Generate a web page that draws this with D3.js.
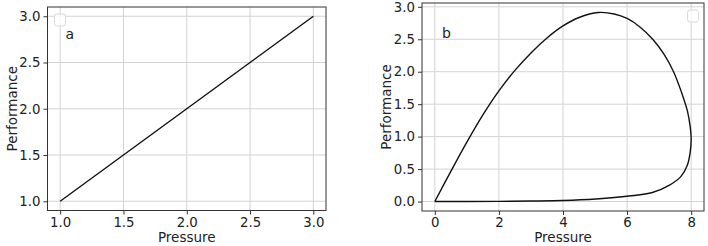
<!DOCTYPE html>
<html>
<head>
<meta charset="utf-8">
<script src="https://cdn.jsdelivr.net/npm/d3@7"></script>
<style>
  body { margin: 0; background: #fff; }
  text { font-family: "DejaVu Sans", sans-serif; fill: #222; }
  .grid line { stroke: #d3d3d3; stroke-width: 1; }
  .tick-label { font-size: 13.3px; }
  .axis-title { font-size: 13.5px; }
</style>
</head>
<body>
<div id="chart"></div>
<script>
(function () {

// panel a: straight line
const pressureA = [1.0, 1.5, 2.0, 2.5, 3.0];
const perfA = [1.0, 1.5, 2.0, 2.5, 3.0];
const xTicksA = [1.0, 1.5, 2.0, 2.5, 3.0];
const yTicksA = [1.0, 1.5, 2.0, 2.5, 3.0];

// panel b: closed loop
const pressureB = [0, 0.5, 1.0, 1.5, 2.0, 2.5, 3.0, 3.5, 4.0, 4.5, 5.1, 5.6, 6.0, 6.4, 6.8, 7.15, 7.45, 7.7, 7.88, 7.97, 8.0, 7.97, 7.88, 7.67, 7.31, 6.79, 6.06, 5.03, 4.0, 3.0, 2.0, 1.0, 0];
const perfB = [0, 0.465, 0.915, 1.335, 1.705, 2.02, 2.29, 2.52, 2.705, 2.835, 2.913, 2.89, 2.82, 2.69, 2.5, 2.27, 2.0, 1.68, 1.4, 1.15, 0.97, 0.76, 0.56, 0.38, 0.25, 0.14, 0.085, 0.04, 0.016, 0.008, 0.003, 0.001, 0];
const xTicksB = [0, 2, 4, 6, 8];
const yTicksB = [0.0, 0.5, 1.0, 1.5, 2.0, 2.5, 3.0];

const svg = d3.select("#chart").append("svg")
    .attr("width", 708)
    .attr("height", 246);

function panel(opt) {
  const g = svg.append("g")
      .attr("transform", "translate(" + opt.left + "," + opt.top + ")");
  const w = opt.width, h = opt.height;

  // matplotlib style 5% padding around the data
  const xe = d3.extent(opt.xs), ye = d3.extent(opt.ys);
  const xp = (xe[1] - xe[0]) * 0.05, yp = (ye[1] - ye[0]) * 0.05;
  const x = d3.scaleLinear().domain([xe[0] - xp, xe[1] + xp]).range([0, w]);
  const y = d3.scaleLinear().domain([ye[0] - yp, ye[1] + yp]).range([h, 0]);

  // grid
  const grid = g.append("g").attr("class", "grid");
  grid.selectAll(".gx").data(opt.xTicks).join("line")
    .attr("x1", d => x(d)).attr("x2", d => x(d))
    .attr("y1", 0).attr("y2", h);
  grid.selectAll(".gy").data(opt.yTicks).join("line")
    .attr("y1", d => y(d)).attr("y2", d => y(d))
    .attr("x1", 0).attr("x2", w);

  // axes using d3 axis generators
  const xAxis = g.append("g")
    .attr("transform", "translate(0," + h + ")")
    .call(d3.axisBottom(x).tickValues(opt.xTicks).tickFormat(opt.xFmt).tickSizeOuter(0).tickSize(4).tickPadding(3));
  const yAxis = g.append("g")
    .call(d3.axisLeft(y).tickValues(opt.yTicks).tickFormat(d3.format(".1f")).tickSizeOuter(0).tickSize(4).tickPadding(3));
  [xAxis, yAxis].forEach(a => {
    a.select(".domain").remove();
    a.selectAll(".tick line").attr("stroke", "#333");
    a.selectAll(".tick text").attr("class", "tick-label").attr("font-family", null).attr("font-size", null).attr("fill", "#222");
  });

  // the line
  const line = d3.line()
    .x(d => x(d[0]))
    .y(d => y(d[1]))
    .curve(opt.curve);
  g.append("path")
    .datum(d3.zip(opt.xs, opt.ys))
    .attr("d", line)
    .attr("fill", "none")
    .attr("stroke", "#111")
    .attr("stroke-width", 1.4);

  // frame
  g.append("rect")
    .attr("width", w).attr("height", h)
    .attr("fill", "none").attr("stroke", "#333").attr("stroke-width", 1);

  // empty legend box
  g.append("rect")
    .attr("x", opt.legendX).attr("y", 7)
    .attr("width", 11).attr("height", 12).attr("rx", 2.5)
    .attr("fill", "#fff").attr("fill-opacity", 0.8)
    .attr("stroke", "#d8d8d8").attr("stroke-width", 1);

  // panel letter
  g.append("text")
    .attr("x", opt.letterX).attr("y", opt.letterY)
    .attr("font-size", 14)
    .text(opt.letter);

  // axis titles
  g.append("text").attr("class", "axis-title")
    .attr("x", w / 2).attr("y", h + 31)
    .attr("text-anchor", "middle")
    .text("Pressure");
  g.append("text").attr("class", "axis-title")
    .attr("transform", "translate(" + (-31) + "," + (h / 2) + ") rotate(-90)")
    .attr("text-anchor", "middle")
    .text("Performance");
}

panel({
  left: 47.5, top: 7, width: 278.5, height: 203.5,
  xs: pressureA, ys: perfA, xTicks: xTicksA, yTicks: yTicksA,
  xFmt: d3.format(".1f"), curve: d3.curveLinear,
  letter: "a", letterX: 18, letterY: 31.5, legendX: 7
});

panel({
  left: 422, top: 3, width: 282, height: 208,
  xs: pressureB, ys: perfB, xTicks: xTicksB, yTicks: yTicksB,
  xFmt: d3.format("d"), curve: d3.curveCatmullRom.alpha(0.5),
  letter: "b", letterX: 20, letterY: 35, legendX: 265.5
});

})()
</script>
</body>
</html>
